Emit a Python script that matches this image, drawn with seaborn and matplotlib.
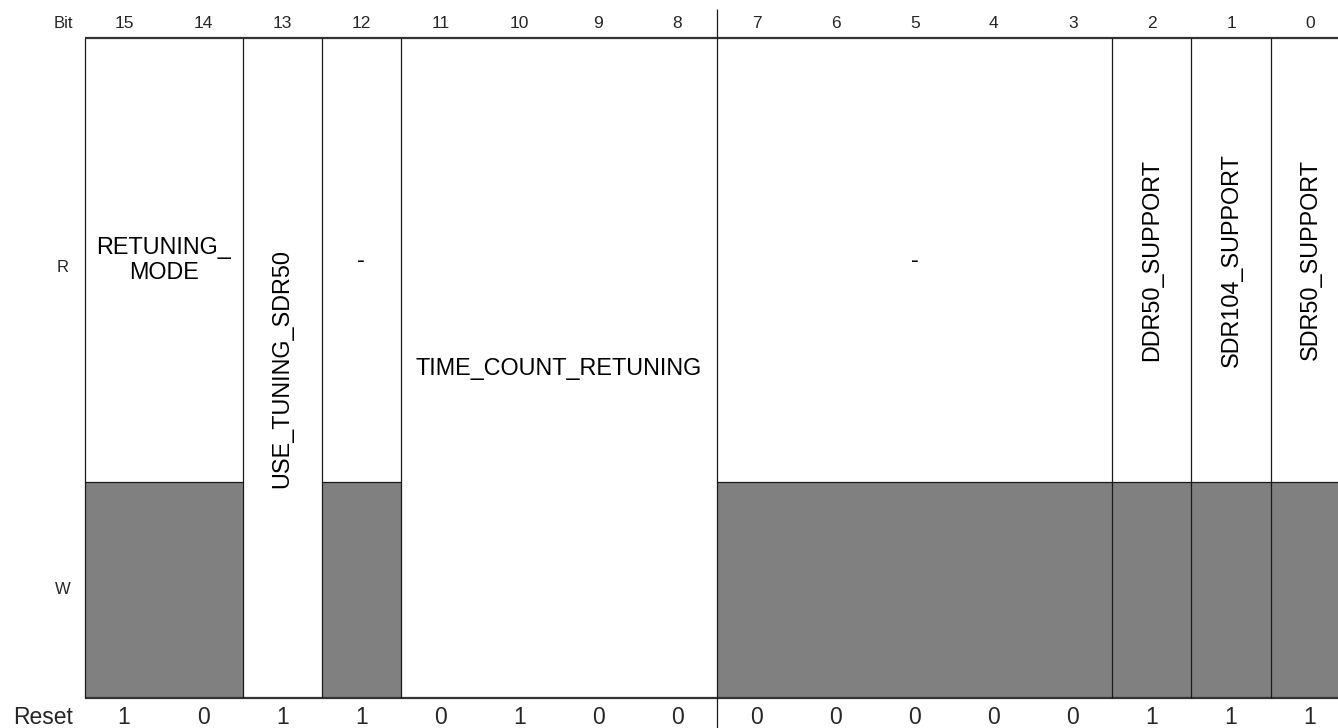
import matplotlib
matplotlib.use("Agg")
import numpy as np
import pandas as pd
import matplotlib.pyplot as plt
import seaborn as sns

# register data
bits = list(range(15, -1, -1))
reset_values = [1, 0, 1, 1, 0, 1, 0, 0, 0, 0, 0, 0, 0, 1, 1, 1]

field_names = ["RETUNING_\nMODE", "USE_TUNING_SDR50", "-", "TIME_COUNT_RETUNING",
               "-", "DDR50_SUPPORT", "SDR104_SUPPORT", "SDR50_SUPPORT"]
field_msb = [15, 13, 12, 11, 7, 2, 1, 0]
field_lsb = [14, 13, 12, 8, 3, 2, 1, 0]
field_access = ["R", "RW", "R", "RW", "R", "R", "R", "R"]
field_rotated = [False, True, False, False, False, True, True, True]

# layout (pixels of the 1338x728 picture)
W_PX, H_PX = 1338, 728
LEFT = 84.5
COL = 79.07
TOP_LINE = 38
DIVIDER = 482
BOTTOM = 698
HALF_SPLIT = 8  # long separator between bit 8 and bit 7


def x_of(px):
    return (px - LEFT) / COL - 0.5


def y_of(py):
    return BOTTOM - py


def col_of(bit):
    return 15 - bit


sns.set_theme(style="white")
plt.rcParams["font.family"] = ["Liberation Sans", "DejaVu Sans"]

fig = plt.figure(figsize=(W_PX / 100, H_PX / 100), dpi=100)
ax = fig.add_axes([0, 0, 1, 1])

# shade of the W row: grey where the field is read only
w_fill = np.zeros(len(bits))
for msb, lsb, acc in zip(field_msb, field_lsb, field_access):
    if acc == "R":
        for b in range(lsb, msb + 1):
            w_fill[col_of(b)] = 1
w_height = y_of(DIVIDER)
df = pd.DataFrame({"bit": [str(b) for b in bits], "fill": w_fill * w_height})
sns.barplot(data=df, x="bit", y="fill", order=[str(b) for b in bits],
            color="#808080", saturation=1, width=1, linewidth=0,
            errorbar=None, ax=ax)

ax.set_xlim(x_of(0), x_of(W_PX))
ax.set_ylim(y_of(H_PX), y_of(0))
ax.axis("off")

r_top = y_of(TOP_LINE)
line_col = "#1a1a1a"
# outer frame
ax.hlines([0, r_top], -0.5, 15.5, color="#333333", lw=1.6, zorder=3)
ax.vlines(-0.5, 0, r_top, color=line_col, lw=0.9, zorder=3)

for name, msb, lsb, acc, rot in zip(field_names, field_msb, field_lsb,
                                    field_access, field_rotated):
    left = col_of(msb) - 0.5
    right = col_of(lsb) + 0.5
    if lsb == HALF_SPLIT:
        ax.vlines(right, y_of(H_PX), y_of(9), color=line_col, lw=0.9, zorder=3)
    else:
        ax.vlines(right, 0, r_top, color=line_col, lw=0.9, zorder=3)
    if acc == "R":
        ax.hlines(w_height, left, right, color=line_col, lw=0.9, zorder=3)
        cy = (w_height + r_top) / 2
    else:
        cy = r_top / 2
    ax.text((left + right) / 2, cy, name, ha="center", va="center",
            fontsize=16.8, rotation=90 if rot else 0, color="black",
            linespacing=1.15, zorder=4)

# bit numbers and reset values
for i, (b, rv) in enumerate(zip(bits, reset_values)):
    ax.text(i, y_of(24), str(b), ha="center", va="center", fontsize=12.5)
    ax.text(i, y_of(717), str(rv), ha="center", va="center", fontsize=16.5)

ax.text(x_of(63.5), y_of(24), "Bit", ha="center", va="center", fontsize=12)
ax.text(x_of(63), y_of(268), "R", ha="center", va="center", fontsize=12)
ax.text(x_of(63), y_of(590), "W", ha="center", va="center", fontsize=12)
ax.text(x_of(43), y_of(717), "Reset", ha="center", va="center", fontsize=16.5)

fig.savefig("out.png", dpi=100)
